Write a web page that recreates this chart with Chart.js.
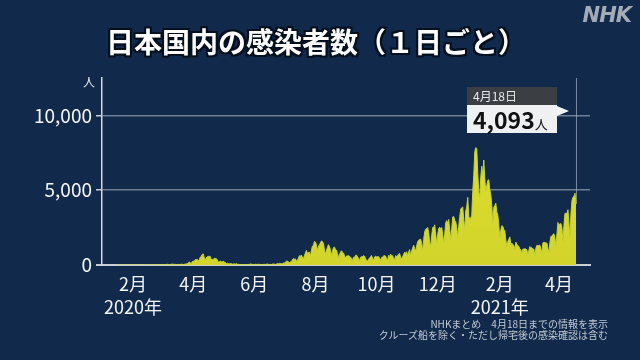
<!DOCTYPE html>
<html lang="ja">
<head>
<meta charset="utf-8" />
<script src="https://cdn.jsdelivr.net/npm/chart.js@4.4.1/dist/chart.umd.min.js"></script>
<style>
  html, body { margin: 0; padding: 0; background: #11294a; }
  #wrap { position: relative; width: 640px; height: 360px; overflow: hidden;
          font-family: "Noto Sans CJK JP", "Noto Sans", sans-serif; }
  #c { position: absolute; left: 0; top: 0; }
  .title { position: absolute; left: 0; width: 632px; top: 21px; text-align: center;
           font-size: 28px; font-weight: bold; color: #fff;
           text-shadow: -2px -2px 0 #05101f, 2px -2px 0 #05101f, -2px 2px 0 #05101f, 2px 2px 0 #05101f,
                        0 -2px 0 #05101f, 0 2px 0 #05101f, -2px 0 0 #05101f, 2px 0 0 #05101f; }
  .logo { position: absolute; right: 9px; top: 3px; font-family: "DejaVu Sans", sans-serif;
          font-size: 21px; font-weight: bold; font-style: italic; color: #a3abb7; letter-spacing: -1px; }
  .unit { position: absolute; left: 83px; top: 73px; font-size: 12px; color: #e8ecf2; }
  .note { position: absolute; right: 32px; top: 318px; text-align: right; font-size: 10px;
          line-height: 11px; color: #c3c9d3; }
  .callout { position: absolute; left: 467px; top: 87px; width: 90px; }
  .callout .date { background: #3b3f44; color: #e6e6e6; font-size: 12px; height: 18px;
                   line-height: 18px; padding-left: 6px; }
  .callout .val { background: #eef0f2; color: #111; height: 28px; line-height: 28px; padding-left: 6px;
                  font-size: 23px; font-weight: bold; }
  .callout .val span { font-size: 13px; font-weight: normal; }
  .arrow { position: absolute; left: 557px; top: 106px; width: 0; height: 0;
           border-top: 5px solid transparent; border-bottom: 5px solid transparent; border-left: 12px solid #f4f4f4; }
</style>
</head>
<body>
<div id="wrap">
  <canvas id="c" width="640" height="360"></canvas>
  <div class="title">日本国内の感染者数（１日ごと）</div>
  <div class="logo">NHK</div>
  <div class="unit">人</div>
  <div class="callout">
    <div class="date">4月18日</div>
    <div class="val">4,093<span>人</span></div>
  </div>
  <div class="arrow"></div>
  <div class="note">NHKまとめ　4月18日までの情報を表示<br>クルーズ船を除く・ただし帰宅後の感染確認は含む</div>
</div>
<script>
// 1日ごとの感染者数 (読み取り値)
const jan2020 = [1,0,0,0,0,0,0,0,1,1,1,0,3,1,3,3]; // 1/16から
const feb2020 = [3,0,0,3,0,0,0,0,0,1,0,3,3,8,8,5,6,6,11,12,15,9,9,11,12,11,21,17,10];
const mar2020 = [15,15,14,33,33,49,37,35,26,59,54,52,43,42,32,16,44,39,39,49,53,32,37,66,65,96,123,200,173,87,220];
const apr2020 = [266,235,351,368,383,252,351,515,576,708,743,507,391,457,549,572,584,568,372,357,376,450,437,437,345,200,201,268,230,193];
const may2020 = [263,203,179,87,123,96,83,84,99,56,67,83,55,99,45,55,20,29,29,33,30,33,25,20,19,38,33,70,57,44,37];
const jun2020 = [37,52,41,43,47,43,39,30,41,37,41,41,50,72,40,38,39,35,65,66,57,39,58,96,81,104,103,91,86,130];
const jul2020 = [125,196,250,274,207,159,207,224,353,430,385,408,254,334,453,622,593,662,510,420,632,795,981,778,837,855,598,981,1264,1301,1580];
const aug2020 = [1536,1331,962,1237,1354,1485,1605,1565,1442,1011,700,979,1177,1360,1229,1014,637,907,1166,1200,1033,994,756,489,696,860,951,850,793,640,433];
const sep2020 = [598,613,618,581,523,441,291,516,505,647,657,556,438,269,519,550,567,621,592,412,317,260,376,480,531,637,455,297,518,595];
const oct2020 = [539,562,556,449,306,495,538,602,627,593,423,293,644,555,727,620,621,455,313,626,577,601,731,768,525,421,536,716,860,759,890];
const nov2020 = [613,856,1031,584,941,1128,1326,1109,927,1278,1547,1661,1705,1730,1438,950,1699,2201,2388,2427,2508,2168,1517,1230,1939,2505,2510,2684,2068,1434];
const dec2020 = [2030,2430,2518,2439,2508,2026,1488,2051,2811,2971,2790,3041,2388,1683,2383,3211,3236,2986,2897,2494,1805,2569,3231,3742,3830,3881,2985,2395,3606,3881,4520];
const jan2021 = [3253,3059,3158,3323,4915,6004,7570,7844,7790,6095,4876,4538,5874,6604,6001,7014,5759,4925,5320,5654,5699,5044,4715,3990,2764,3853,3960,4132,3538,3343,2673];
const feb2021 = [1792,2324,2631,2576,2371,2288,1670,1219,1566,1729,1882,1358,1462,1366,1308,1037,1527,1379,1305,1239,1081,1012,740,1065,1075,1078,1073,1008];
const mar2021 = [665,983,1233,1156,1151,1055,1064,599,1128,1316,1289,1319,1320,1067,839,1486,1516,1503,1469,1467,1116,806,1526,1918,1916,2045,2083,1785,1269,2084,2843];
const apr2021 = [2603,2764,2761,2463,1571,2652,3451,3449,3451,3697,2779,1848,3456,4311,4532,4577,4802,4093]; // 4/18まで

const yTicks = [0, 5000, 10000];
const yearLabels = { "2020-2": "2020年", "2021-2": "2021年" };

const leadDays = 15;   // 1/1〜1/15 はデータなし
const trailDays = 14;  // 4/19以降は余白
const cases = [].concat(jan2020, feb2020, mar2020, apr2020, may2020, jun2020, jul2020, aug2020,
                        sep2020, oct2020, nov2020, dec2020, jan2021, feb2021, mar2021, apr2021);

const days = [];
const values = [];
const total = leadDays + cases.length + trailDays;
for (let i = 0; i < total; i++) {
  days.push(new Date(Date.UTC(2020, 0, 1 + i)));
  const k = i - leadDays;
  values.push(k >= 0 && k < cases.length ? cases[k] : null);
}
const lastIndex = leadDays + cases.length - 1;

// 最新日の縦線
const cursorLine = {
  id: "cursorLine",
  beforeDatasetsDraw(chart) {
    const x = chart.scales.x.getPixelForValue(lastIndex);
    const y = chart.scales.y.getPixelForValue(values[lastIndex]);
    const ctx = chart.ctx;
    ctx.save();
    ctx.strokeStyle = "rgba(165,178,200,0.7)";
    ctx.lineWidth = 1;
    ctx.beginPath();
    ctx.moveTo(x + 0.5, chart.chartArea.top);
    ctx.lineTo(x + 0.5, y);
    ctx.stroke();
    ctx.restore();
  }
};

new Chart(document.getElementById("c").getContext("2d"), {
  type: "line",
  data: {
    labels: days.map(d => d.toISOString().slice(0, 10)),
    datasets: [{
      data: values,
      fill: "origin",
      pointRadius: 0,
      borderWidth: 1,
      borderColor: "#c6d23a",
      tension: 0,
      backgroundColor: (ctx) => {
        const area = ctx.chart.chartArea;
        if (!area) return "#d8d82a";
        const g = ctx.chart.ctx.createLinearGradient(0, area.top, 0, area.bottom);
        g.addColorStop(0, "#e6e22a");
        g.addColorStop(1, "#d2d42c");
        return g;
      }
    }]
  },
  options: {
    responsive: false,
    animation: false,
    layout: { padding: { top: 78, right: 50, left: 0, bottom: 0 } },
    plugins: { legend: { display: false }, tooltip: { enabled: false } },
    scales: {
      x: {
        afterFit: (s) => { s.height = 95; },
        grid: { display: false },
        border: { display: true, color: "#c9ced6", width: 2 },
        ticks: {
          autoSkip: false,
          maxRotation: 0,
          padding: 0,
          color: "#f2f4f7",
          font: { family: "Noto Sans CJK JP", size: 18, lineHeight: 1.25 },
          callback: (v, i) => {
            const d = days[i];
            const m = d.getUTCMonth() + 1;
            if (d.getUTCDate() !== 1 || m % 2 !== 0) return null;
            const yl = yearLabels[d.getUTCFullYear() + "-" + m];
            return yl ? [m + "月", yl] : m + "月";
          }
        }
      },
      y: {
        min: 0,
        max: 12500,
        afterFit: (s) => { s.width = 102; },
        afterBuildTicks: (s) => { s.ticks = yTicks.map(v => ({ value: v })); },
        border: { display: true, color: "#d3d7de", width: 1.5 },
        grid: {
          color: (ctx) => ctx.tick && ctx.tick.value === 0 ? "#c9ced6" : "rgba(190,198,210,0.55)",
          lineWidth: (ctx) => ctx.tick && ctx.tick.value === 0 ? 2 : 1.5,
          tickLength: 6,
          tickColor: "#c9ced6"
        },
        ticks: {
          padding: 4,
          color: "#f2f4f7",
          font: { family: "Noto Sans CJK JP", size: 19 },
          callback: (v) => v.toLocaleString("en-US")
        }
      }
    }
  },
  plugins: [cursorLine]
});
</script>
</body>
</html>
